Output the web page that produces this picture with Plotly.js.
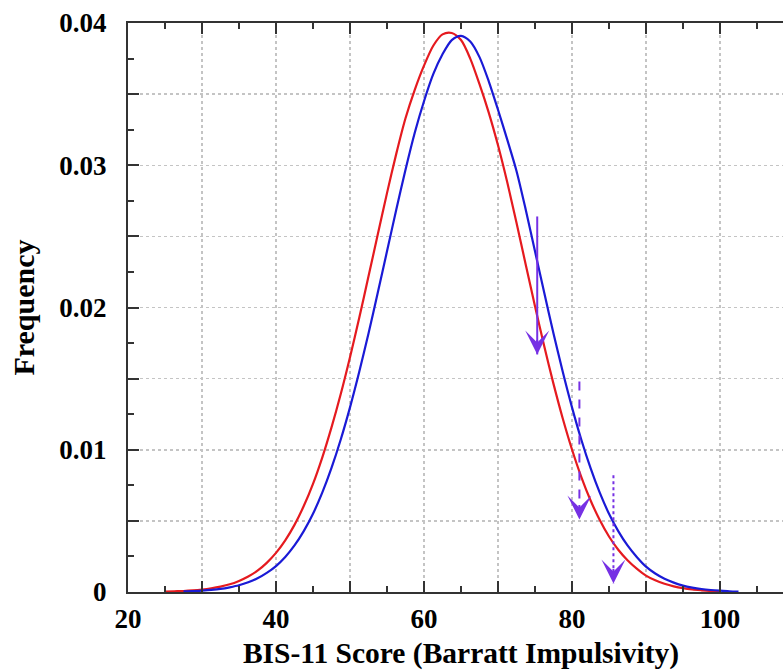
<!DOCTYPE html>
<html>
<head>
<meta charset="utf-8">
<script src="https://cdn.plot.ly/plotly-3.0.1.min.js"></script>
<style>
  html, body { margin: 0; padding: 0; overflow: hidden; background: #fff; }
  #chart { width: 794px; height: 670px; }
</style>
</head>
<body>
<div id="chart"></div>
<script>
// ---- Data (x in steps of 1.25) ----
const redX = [25, 26.25, 27.5, 28.75, 30, 31.25, 32.5, 33.75, 35, 36.25, 37.5, 38.75, 40, 41.25, 42.5, 43.75, 45, 46.25, 47.5, 48.75, 50, 51.25, 52.5, 53.75, 55, 56.25, 57.5, 58.75, 60, 61.25, 62.5, 63.75, 65, 66.25, 67.5, 68.75, 70, 71.25, 72.5, 73.75, 75, 76.25, 77.5, 78.75, 80, 81.25, 82.5, 83.75, 85, 86.25, 87.5, 88.75, 90, 91.25, 92.5, 93.75, 95, 96.25, 97.5, 98.75, 100];
const redY = [0.00003, 0.00005, 0.00007, 0.00011, 0.00017, 0.00026, 0.00038, 0.00054, 0.00078, 0.00109, 0.0015, 0.00205, 0.00275, 0.00363, 0.00472, 0.00604, 0.0076, 0.00945, 0.01157, 0.01392, 0.01651, 0.01928, 0.02219, 0.02513, 0.02804, 0.0308, 0.0333, 0.0353, 0.0370, 0.0384, 0.0392, 0.0393, 0.0388, 0.0375, 0.0357, 0.0337, 0.0314, 0.0288, 0.02595, 0.02301, 0.02009, 0.01727, 0.01463, 0.0122, 0.01002, 0.0081, 0.00645, 0.00506, 0.0039, 0.00297, 0.00223, 0.00164, 0.00115, 0.00082, 0.00058, 0.0004, 0.00027, 0.00018, 0.00012, 0.00007, 0.00004];

const blueX = [27.5, 28.75, 30, 31.25, 32.5, 33.75, 35, 36.25, 37.5, 38.75, 40, 41.25, 42.5, 43.75, 45, 46.25, 47.5, 48.75, 50, 51.25, 52.5, 53.75, 55, 56.25, 57.5, 58.75, 60, 61.25, 62.5, 63.75, 65, 66.25, 67.5, 68.75, 70, 71.25, 72.5, 73.75, 75, 76.25, 77.5, 78.75, 80, 81.25, 82.5, 83.75, 85, 86.25, 87.5, 88.75, 90, 91.25, 92.5, 93.75, 95, 96.25, 97.5, 98.75, 100, 101.25, 102.5];
const blueY = [0.00004, 0.00006, 0.0001, 0.00015, 0.00022, 0.00033, 0.00047, 0.00068, 0.00096, 0.00134, 0.00182, 0.00246, 0.00327, 0.00428, 0.0055, 0.00698, 0.00872, 0.01072, 0.01298, 0.01548, 0.01818, 0.02103, 0.02395, 0.02687, 0.02968, 0.03228, 0.0345, 0.0364, 0.0378, 0.0388, 0.0391, 0.0387, 0.0376, 0.0359, 0.0339, 0.0318, 0.0296, 0.02687, 0.02395, 0.02103, 0.01818, 0.01548, 0.01298, 0.01072, 0.00872, 0.00698, 0.0055, 0.00428, 0.00327, 0.00246, 0.00178, 0.0013, 0.00093, 0.00066, 0.00045, 0.00031, 0.00021, 0.00014, 0.00009, 0.00005, 0.00003];

const arrowX = [75.3, 81.0, 85.6];
const arrowStart = [0.0264, 0.0148, 0.0082];
const arrowEnd = [0.0167, 0.0051, 0.0006];
const arrowDash = ['solid', 'dash', 'dot'];

const xTickVals = [20, 30, 40, 50, 60, 70, 80, 90, 100, 110];
const xTickText = ['20', '', '40', '', '60', '', '80', '', '100', ''];
const yTickVals = [0, 0.005, 0.01, 0.015, 0.02, 0.025, 0.03, 0.035, 0.04];
const yTickText = ['0', '', '0.01', '', '0.02', '', '0.03', '', '0.04'];

// ---- Styles ----
const RED = '#e51a1f';
const BLUE = '#1a1ad6';
const PURPLE = '#7630e4';
const AXIS = '#333333';
const GRID = '#c4c4c4';
const FONT = 'Liberation Serif, Times New Roman, serif';

const traces = [
  { x: redX, y: redY, type: 'scatter', mode: 'lines',
    line: { color: RED, width: 2.2, shape: 'spline', smoothing: 0.8 }, hoverinfo: 'skip' },
  { x: blueX, y: blueY, type: 'scatter', mode: 'lines',
    line: { color: BLUE, width: 2.2, shape: 'spline', smoothing: 0.8 }, hoverinfo: 'skip' }
];

const annotations = [];
for (let i = 0; i < arrowX.length; i++) {
  traces.push({
    x: [arrowX[i], arrowX[i]], y: [arrowStart[i], arrowEnd[i]],
    type: 'scatter', mode: 'lines',
    line: { color: PURPLE, width: 2, dash: arrowDash[i] }, hoverinfo: 'skip'
  });
  annotations.push({
    x: arrowX[i], y: arrowEnd[i], xref: 'x', yref: 'y',
    ax: 0, ay: -30, axref: 'pixel', ayref: 'pixel',
    text: '', showarrow: true, arrowhead: 3, arrowsize: 2.0, arrowwidth: 2,
    arrowcolor: PURPLE, standoff: 0, startstandoff: 14
  });
}

const layout = {
  width: 794, height: 670,
  margin: { l: 127.5, r: 0, t: 22.7, b: 78 },
  paper_bgcolor: '#fff', plot_bgcolor: '#fff',
  showlegend: false,
  font: { family: FONT, size: 27, color: '#000' },
  xaxis: {
    range: [20, 110], tickmode: 'array', tickvals: xTickVals, ticktext: xTickText,
    ticks: 'inside', ticklen: 11, tickwidth: 2, tickcolor: AXIS,
    showline: true, linecolor: AXIS, linewidth: 2, mirror: 'ticks',
    showgrid: true, gridcolor: GRID, griddash: 'dot', gridwidth: 1.5,
    zeroline: false, ticklabelstandoff: 2,
    tickfont: { family: FONT, size: 27, weight: 'bold', color: '#000' },
    minor: { dtick: 5, tick0: 0, ticks: 'inside', ticklen: 6, tickwidth: 2, tickcolor: AXIS, showgrid: false },
    title: { text: 'BIS-11 Score (Barratt Impulsivity)', standoff: 12,
             font: { family: FONT, size: 29.5, weight: 'bold', color: '#000' } }
  },
  yaxis: {
    range: [0, 0.04], tickmode: 'array', tickvals: yTickVals, ticktext: yTickText,
    ticks: 'inside', ticklen: 11, tickwidth: 2, tickcolor: AXIS,
    showline: true, linecolor: AXIS, linewidth: 2, mirror: 'ticks',
    showgrid: true, gridcolor: GRID, griddash: 'dot', gridwidth: 1.5,
    zeroline: false, ticklabelstandoff: 14,
    tickfont: { family: FONT, size: 27, weight: 'bold', color: '#000' },
    minor: { dtick: 0.0025, tick0: 0, ticks: 'inside', ticklen: 6, tickwidth: 2, tickcolor: AXIS, showgrid: false },
    title: { text: 'Frequency', standoff: 16,
             font: { family: FONT, size: 30, weight: 'bold', color: '#000' } }
  },
  annotations: annotations
};

Plotly.newPlot('chart', traces, layout, { displayModeBar: false, staticPlot: true });
</script>
</body>
</html>
